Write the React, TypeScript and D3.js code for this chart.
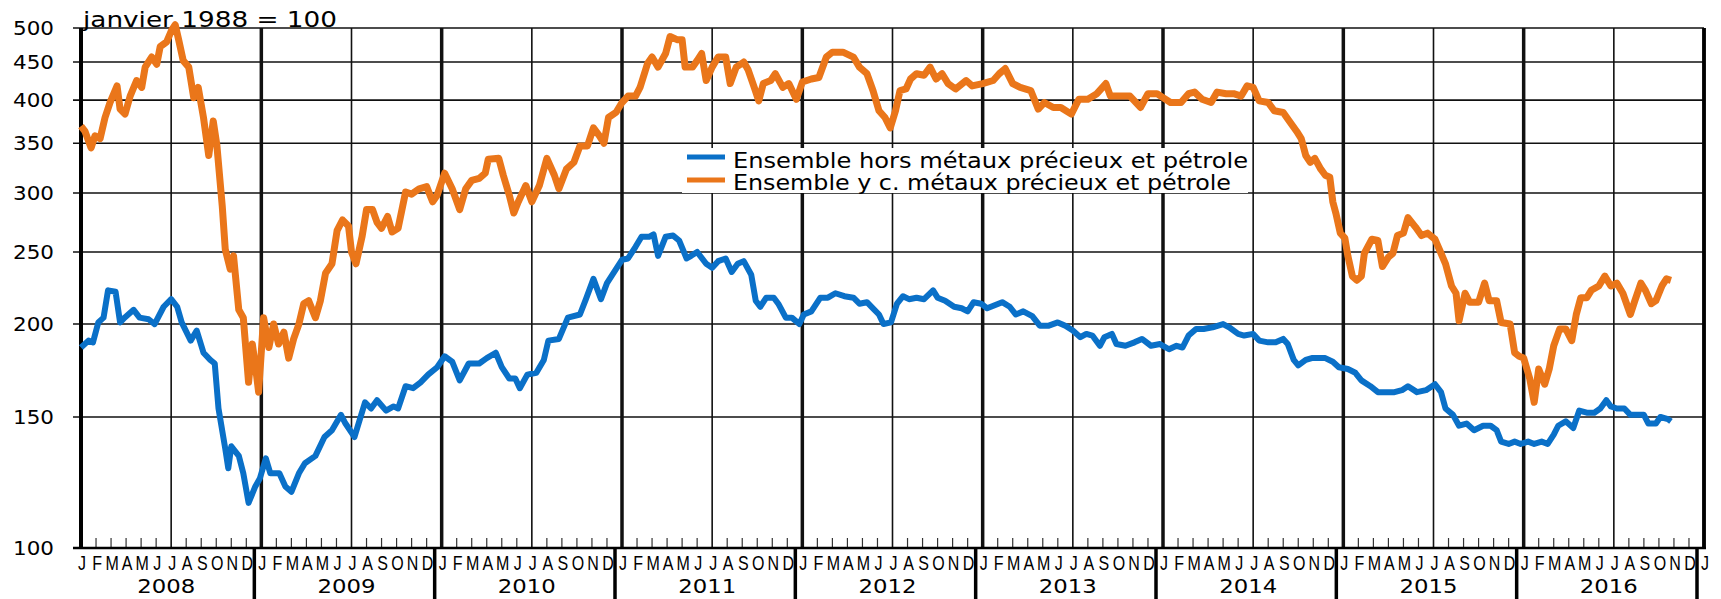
import React from 'react';
import * as d3 from 'd3';

// [month offset from Jan 2008, index value]
const orangeSeries: [number, number][] = [
  [0, 369], [0.27, 363], [0.67, 345], [0.93, 358], [1.27, 355], [1.6, 379], [1.93, 397], [2.4, 418], [2.6, 389], [2.93, 383],
  [3.27, 405], [3.7, 425], [4.04, 416], [4.27, 443], [4.7, 457], [5.04, 447], [5.27, 472], [5.7, 479], [6.04, 497], [6.27, 505],
  [6.5, 482], [6.8, 452], [7.17, 443], [7.5, 403], [7.8, 416], [8.15, 379], [8.5, 337], [8.8, 375], [9.04, 348], [9.4, 288],
  [9.6, 252], [9.93, 237], [10.15, 247], [10.5, 209], [10.8, 204], [11.15, 167], [11.4, 188], [11.6, 176], [11.82, 162], [12.15, 204],
  [12.5, 186], [12.82, 200], [13.15, 188], [13.5, 195], [13.82, 180], [14.15, 191], [14.5, 200], [14.82, 213], [15.15, 215], [15.6, 204],
  [15.93, 215], [16.27, 234], [16.7, 241], [17.04, 267], [17.4, 276], [17.8, 271], [18.0, 250], [18.3, 241], [18.7, 262], [19.0, 285],
  [19.4, 285], [19.7, 274], [20.0, 269], [20.4, 279], [20.7, 266], [21.1, 269], [21.6, 301], [22.0, 299], [22.5, 304], [23.0, 306],
  [23.4, 292], [23.7, 298], [24.2, 319], [24.7, 304], [25.2, 285], [25.6, 304], [26.0, 312], [26.5, 314], [26.9, 319], [27.1, 333],
  [27.8, 334], [28.1, 317], [28.5, 298], [28.8, 282], [29.1, 292], [29.6, 307], [30.0, 292], [30.5, 307], [31.0, 334], [31.5, 317],
  [31.8, 304], [32.3, 323], [32.8, 330], [33.2, 347], [33.7, 347], [34.1, 367], [34.5, 358], [34.8, 350], [35.1, 379], [35.6, 385],
  [36.0, 397], [36.4, 405], [36.9, 405], [37.2, 416], [37.7, 448], [38.0, 457], [38.4, 443], [38.9, 462], [39.2, 487], [39.7, 482],
  [40.0, 482], [40.2, 443], [40.7, 443], [41.0, 452], [41.3, 462], [41.6, 425], [42.0, 443], [42.4, 457], [42.9, 457], [43.2, 421],
  [43.6, 443], [44.1, 450], [44.4, 439], [44.8, 416], [45.1, 399], [45.4, 421], [45.9, 425], [46.2, 434], [46.7, 416], [47.1, 421],
  [47.6, 401], [48.0, 423], [48.6, 427], [49.1, 429], [49.6, 457], [50.0, 464], [50.7, 464], [51.4, 457], [51.8, 443], [52.3, 434],
  [52.7, 412], [53.1, 387], [53.5, 379], [53.85, 367], [54.2, 387], [54.5, 412], [54.9, 414], [55.2, 427], [55.6, 434], [56.1, 432],
  [56.5, 443], [56.9, 427], [57.3, 434], [57.7, 421], [58.2, 414], [58.9, 425], [59.3, 418], [60.0, 421], [60.7, 425], [61.1, 434],
  [61.5, 441], [62.0, 421], [62.5, 416], [63.2, 412], [63.7, 389], [64.1, 397], [64.7, 391], [65.2, 391], [65.9, 383], [66.4, 401],
  [67.0, 401], [67.6, 408], [68.2, 421], [68.5, 405], [69.1, 405], [69.8, 405], [70.5, 391], [71.0, 408], [71.6, 408], [72.0, 403],
  [72.5, 397], [73.2, 397], [73.7, 408], [74.1, 410], [74.6, 401], [75.2, 397], [75.6, 410], [76.2, 408], [76.7, 408], [77.2, 405],
  [77.6, 418], [78.0, 416], [78.4, 399], [79.0, 397], [79.4, 387], [80.0, 385], [80.4, 375], [80.9, 363], [81.2, 355], [81.5, 337],
  [81.8, 330], [82.1, 334], [82.5, 323], [82.8, 317], [83.1, 315], [83.3, 292], [83.5, 282], [83.8, 265], [84.1, 261], [84.3, 247],
  [84.6, 232], [84.9, 229], [85.2, 232], [85.4, 249], [85.9, 260], [86.3, 259], [86.6, 239], [87.0, 246], [87.3, 249], [87.6, 263],
  [88.0, 265], [88.3, 278], [88.8, 270], [89.2, 263], [89.6, 265], [90.1, 260], [90.5, 249], [90.8, 241], [91.2, 225], [91.5, 220],
  [91.7, 202], [92.1, 220], [92.4, 214], [93.0, 214], [93.4, 227], [93.7, 215], [94.2, 215], [94.5, 201], [95.1, 200], [95.4, 183],
  [95.7, 181], [96.0, 180], [96.4, 169], [96.7, 157], [97.0, 174], [97.4, 166], [97.7, 174], [98.0, 187], [98.4, 197], [98.8, 197],
  [99.2, 190], [99.5, 206], [99.8, 217], [100.2, 217], [100.5, 222], [101.0, 225], [101.4, 232], [101.8, 225], [102.2, 227], [102.6, 220],
  [103.1, 206], [103.4, 215], [103.8, 227], [104.1, 222], [104.5, 213], [104.8, 215], [105.2, 225], [105.5, 230], [105.8, 229],
];

const blueSeries: [number, number][] = [
  [0, 186], [0.5, 190], [0.8, 189], [1.15, 201], [1.5, 204], [1.8, 222], [2.3, 221], [2.6, 201], [2.9, 204], [3.5, 209],
  [3.9, 204], [4.5, 203], [4.9, 200], [5.5, 211], [6.0, 216], [6.4, 211], [6.7, 201], [7.3, 190], [7.7, 196], [8.15, 183],
  [8.6, 179], [8.9, 177], [9.15, 154], [9.6, 136], [9.8, 128], [10.0, 137], [10.5, 133], [10.8, 126], [11.15, 115], [11.6, 121],
  [11.9, 124], [12.3, 132], [12.6, 126], [13.2, 126], [13.6, 121], [14.0, 119], [14.5, 126], [14.9, 130], [15.6, 133], [16.2, 141],
  [16.7, 144], [17.3, 151], [17.6, 147], [18.2, 141], [18.9, 157], [19.3, 154], [19.7, 158], [20.3, 153], [20.8, 155], [21.1, 154],
  [21.6, 165], [22.1, 164], [22.6, 167], [23.1, 171], [23.7, 175], [24.2, 181], [24.7, 178], [25.2, 168], [25.8, 177], [26.5, 177],
  [27.0, 180], [27.6, 183], [28.0, 175], [28.5, 169], [28.9, 169], [29.2, 164], [29.7, 171], [30.3, 172], [30.8, 179], [31.1, 190],
  [31.8, 191], [32.4, 204], [33.2, 206], [33.6, 216], [34.1, 230], [34.6, 216], [35.0, 227], [35.6, 237], [36.0, 244], [36.4, 245],
  [36.9, 254], [37.3, 262], [37.8, 262], [38.1, 264], [38.4, 247], [38.9, 262], [39.4, 263], [39.8, 259], [40.3, 245], [40.6, 247],
  [41.0, 250], [41.6, 241], [42.0, 238], [42.4, 243], [42.9, 245], [43.3, 235], [43.7, 241], [44.1, 243], [44.6, 233], [44.9, 215],
  [45.2, 211], [45.6, 217], [46.1, 217], [46.4, 213], [46.9, 204], [47.3, 204], [47.8, 200], [48.1, 206], [48.6, 208], [49.2, 217],
  [49.7, 217], [50.2, 220], [50.8, 218], [51.4, 217], [51.8, 213], [52.3, 214], [52.7, 210], [53.1, 206], [53.4, 200], [53.9, 201],
  [54.3, 213], [54.7, 218], [55.1, 216], [55.6, 217], [56.1, 216], [56.7, 222], [57.0, 217], [57.5, 215], [58.1, 211], [58.6, 210],
  [59.0, 208], [59.4, 214], [59.9, 213], [60.3, 210], [60.8, 212], [61.3, 214], [61.8, 211], [62.2, 206], [62.7, 208], [63.3, 205],
  [63.8, 199], [64.4, 199], [65.0, 201], [65.5, 199], [66.0, 196], [66.5, 192], [66.9, 194], [67.3, 193], [67.8, 187], [68.1, 192],
  [68.6, 194], [68.9, 188], [69.5, 187], [70.1, 189], [70.6, 191], [71.2, 187], [71.8, 188], [72.4, 185], [72.9, 187], [73.3, 186],
  [73.7, 193], [74.2, 197], [74.7, 197], [75.3, 198], [76.0, 200], [76.4, 198], [77.0, 194], [77.4, 193], [78.0, 194], [78.4, 190],
  [79.0, 189], [79.5, 189], [80.0, 191], [80.3, 188], [80.7, 179], [81.0, 176], [81.5, 179], [81.9, 180], [82.4, 180], [82.8, 180],
  [83.3, 178], [83.7, 175], [84.3, 174], [84.8, 172], [85.2, 168], [85.8, 165], [86.3, 162], [86.8, 162], [87.4, 162], [87.9, 163],
  [88.3, 165], [88.9, 162], [89.5, 163], [90.1, 166], [90.5, 162], [90.8, 154], [91.3, 151], [91.7, 146], [92.2, 147], [92.7, 144],
  [93.3, 146], [93.8, 146], [94.2, 144], [94.5, 139], [95.0, 138], [95.4, 139], [95.8, 138], [96.3, 139], [96.7, 138], [97.2, 139],
  [97.6, 138], [98.0, 142], [98.3, 146], [98.8, 148], [99.3, 145], [99.7, 153], [100.2, 152], [100.7, 152], [101.1, 154], [101.5, 158],
  [101.8, 155], [102.2, 154], [102.7, 154], [103.1, 151], [103.5, 151], [104.0, 151], [104.3, 147], [104.8, 147], [105.1, 150], [105.6, 149],
  [105.8, 148],
];

const years = [2008, 2009, 2010, 2011, 2012, 2013, 2014, 2015, 2016];
const monthLetters = ['J', 'F', 'M', 'A', 'M', 'J', 'J', 'A', 'S', 'O', 'N', 'D'];
const yTicks = [100, 150, 200, 250, 300, 350, 400, 450, 500];
const legendLabels = [
  'Ensemble hors métaux précieux et pétrole',
  'Ensemble y c. métaux précieux et pétrole',
];
const title = 'janvier 1988 = 100';

const W = 1721;
const H = 599;
const left = 81;
const right = 1704;
const top = 28;
const bottom = 548;

const ORANGE = '#EA761A';
const BLUE = '#0A70C8';

export default function App() {
  const x = d3.scaleLinear().domain([0, years.length * 12]).range([left, right]);
  const y = d3.scaleLog().domain([100, 500]).range([bottom, top]);

  const line = d3
    .line<[number, number]>()
    .x((d) => x(d[0]))
    .y((d) => y(d[1]));

  const allMonths = d3.range(years.length * 12 + 1);
  const sans = 'DejaVu Sans, Verdana, sans-serif';

  return (
    <svg width={W} height={H} style={{ position: 'absolute', left: 0, top: 0, background: '#fff' }}>
      <rect x={0} y={0} width={W} height={H} fill="#fff" />

      {/* horizontal grid + left ticks */}
      {yTicks.map((t) => (
        <g key={t}>
          <line x1={73} x2={right} y1={y(t)} y2={y(t)} stroke="#111" strokeWidth={1.6} />
          <text x={54} y={y(t) + 7} textAnchor="end" fontFamily={sans} fontSize={20} textLength={41} lengthAdjust="spacingAndGlyphs" fill="#000">
            {t}
          </text>
        </g>
      ))}

      {/* vertical grid: thick at years, thin at July */}
      {allMonths
        .filter((m) => m % 6 === 0)
        .map((m) => (
          <line
            key={m}
            x1={x(m)}
            x2={x(m)}
            y1={top}
            y2={bottom}
            stroke="#111"
            strokeWidth={m % 12 === 0 ? 3.5 : 1.6}
          />
        ))}

      {/* month ticks */}
      {allMonths
        .filter((m) => m % 6 !== 0)
        .map((m) => (
          <line key={m} x1={x(m)} x2={x(m)} y1={bottom} y2={bottom - 10} stroke="#333" strokeWidth={1.2} />
        ))}

      <line x1={73} x2={right + 2} y1={bottom} y2={bottom} stroke="#000" strokeWidth={2.5} />
      <line x1={left} x2={left} y1={top} y2={bottom} stroke="#000" strokeWidth={4} />
      <line x1={right} x2={right} y1={top} y2={bottom} stroke="#000" strokeWidth={3.5} />

      {/* legend box */}
      <rect x={682} y={148} width={566} height={45} fill="#fff" />
      <line x1={687} x2={725} y1={157} y2={157} stroke={BLUE} strokeWidth={5} />
      <line x1={687} x2={725} y1={180} y2={180} stroke={ORANGE} strokeWidth={5} />
      <text x={733} y={168} fontFamily={sans} fontSize={21} textLength={515} lengthAdjust="spacingAndGlyphs">
        {legendLabels[0]}
      </text>
      <text x={733} y={190} fontFamily={sans} fontSize={21} textLength={498} lengthAdjust="spacingAndGlyphs">
        {legendLabels[1]}
      </text>

      {/* series */}
      <path d={line(blueSeries) || ''} fill="none" stroke={BLUE} strokeWidth={6} strokeLinejoin="round" />
      <path d={line(orangeSeries) || ''} fill="none" stroke={ORANGE} strokeWidth={7} strokeLinejoin="round" />

      {/* title */}
      <text x={83} y={27} fontFamily={sans} fontSize={22} textLength={254} lengthAdjust="spacingAndGlyphs">
        {title}
      </text>

      {/* month letters */}
      {allMonths.map((m) => (
        <text
          key={m}
          transform={`translate(${x(m) + 1},570) scale(0.8,1)`}
          textAnchor="middle"
          fontFamily="Liberation Sans Narrow, Liberation Sans, Arial, sans-serif"
          fontSize={20}
        >
          {monthLetters[m % 12]}
        </text>
      ))}

      {/* year separators below axis */}
      {d3.range(1, years.length + 1).map((i) => (
        <line key={i} x1={x(i * 12) - 7} x2={x(i * 12) - 7} y1={bottom} y2={H} stroke="#000" strokeWidth={3.5} />
      ))}

      {years.map((yr, i) => (
        <text key={yr} x={x(i * 12 + 6) - 5} y={593} textAnchor="middle" fontFamily={sans} fontSize={19} textLength={58} lengthAdjust="spacingAndGlyphs">
          {yr}
        </text>
      ))}
    </svg>
  );
}
